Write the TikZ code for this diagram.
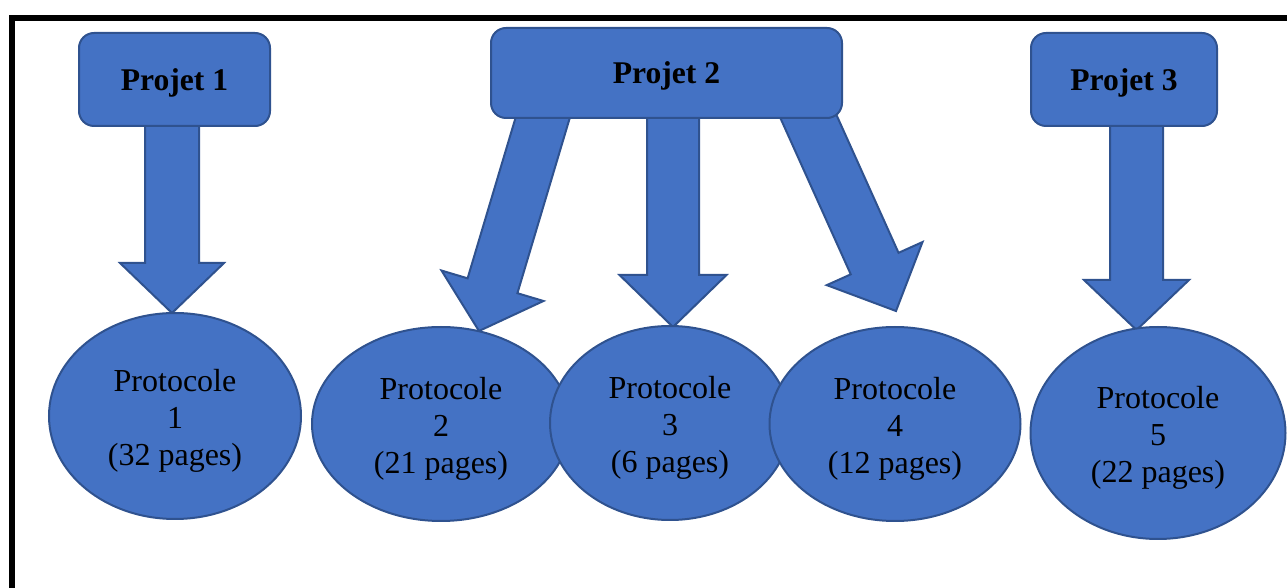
\documentclass[tikz,border=0pt]{standalone}
\usepackage{fontspec}
\setmainfont{Liberation Serif}
\usetikzlibrary{shapes.geometric,calc,backgrounds}
\definecolor{shapefill}{HTML}{4472C4}
\definecolor{shapeline}{HTML}{2F528F}
\tikzset{
  shapestyle/.style={fill=shapefill, draw=shapeline, line width=1pt},
  projbox/.style={shapestyle, rounded corners=7.5pt, inner sep=0pt, outer sep=0pt,
    font=\bfseries\fontsize{15.8}{19}\selectfont},
  protoell/.style={shapestyle, ellipse, inner sep=0pt, outer sep=0pt, align=center,
    font=\fontsize{16}{18.5}\selectfont},
  arrowshape/.style={shapestyle, line join=miter},
  frameline/.style={line width=3pt, black}
}
\newcommand\ptext[1]{\raisebox{-2.5pt}[\height][\depth]{\begin{tabular}{@{}c@{}}#1\end{tabular}}}
\newcommand\jtext[1]{\raisebox{-1.5pt}[\height][\depth]{#1}}
% #1 start, #2 tip, #3 half shaft width, #4 half head width, #5 head length
\newcommand\blockarrow[5]{%
  \path ($(#2)!#5!(#1)$) coordinate (bah);
  \path[arrowshape] ($(#1)!#3!90:(#2)$) -- ($(bah)!#3!-90:(#1)$) -- ($(bah)!#4!-90:(#1)$)
    -- (#2) -- ($(bah)!#4!90:(#1)$) -- ($(bah)!#3!90:(#1)$) -- ($(#1)!#3!-90:(#2)$) -- cycle;
}
\begin{document}
\begin{tikzpicture}[x=0.5pt,y=-0.5pt]
\useasboundingbox (0,0) rectangle (1287,588);
% frame
\draw[frameline] (12,588) -- (12,18) -- (1287,18);
% project boxes
\node[projbox, minimum width=95.5pt, minimum height=46.5pt] (p1) at (174.5,79.5) {\jtext{Projet 1}};
\node[projbox, minimum width=175.5pt, minimum height=45pt] (p2) at (666.5,73) {\jtext{Projet 2}};
\node[projbox, minimum width=93pt, minimum height=46.5pt] (p3) at (1124,79.5) {\jtext{Projet 3}};
% protocol ellipses
\node[protoell, minimum width=126pt, minimum height=103pt] (e1) at (175,416) {\ptext{Protocole\\1\\(32 pages)}};
\node[protoell, minimum width=129pt, minimum height=97pt] (e2) at (441,424) {\ptext{Protocole\\2\\(21 pages)}};
\node[protoell, minimum width=120pt, minimum height=97pt] (e3) at (670,423) {\ptext{Protocole\\3\\(6 pages)}};
\node[protoell, minimum width=125.5pt, minimum height=97pt] (e4) at (895,424) {\ptext{Protocole\\4\\(12 pages)}};
\node[protoell, minimum width=127.5pt, minimum height=106pt] (e5) at (1158,433) {\ptext{Protocole\\5\\(22 pages)}};
% arrow end points
\coordinate (a1s) at (172,110);   \coordinate (a1t) at (172,313);
\coordinate (a2s) at (548,100);   \coordinate (a2t) at (479,331);
\coordinate (a3s) at (673,100);   \coordinate (a3t) at (673,327);
\coordinate (a4s) at (801,100);   \coordinate (a4t) at (896,311);
\coordinate (a5s) at (1136.5,110);\coordinate (a5t) at (1136.5,330);
\begin{pgfonlayer}{background}
  \blockarrow{a1s}{a1t}{13.5pt}{26pt}{25pt}
  \blockarrow{a2s}{a2t}{13pt}{26.6pt}{23.6pt}
  \blockarrow{a3s}{a3t}{13pt}{26.75pt}{26pt}
  \blockarrow{a4s}{a4t}{13.1pt}{26.25pt}{26pt}
  \blockarrow{a5s}{a5t}{13.25pt}{26.25pt}{25pt}
\end{pgfonlayer}
\end{tikzpicture}
\end{document}
